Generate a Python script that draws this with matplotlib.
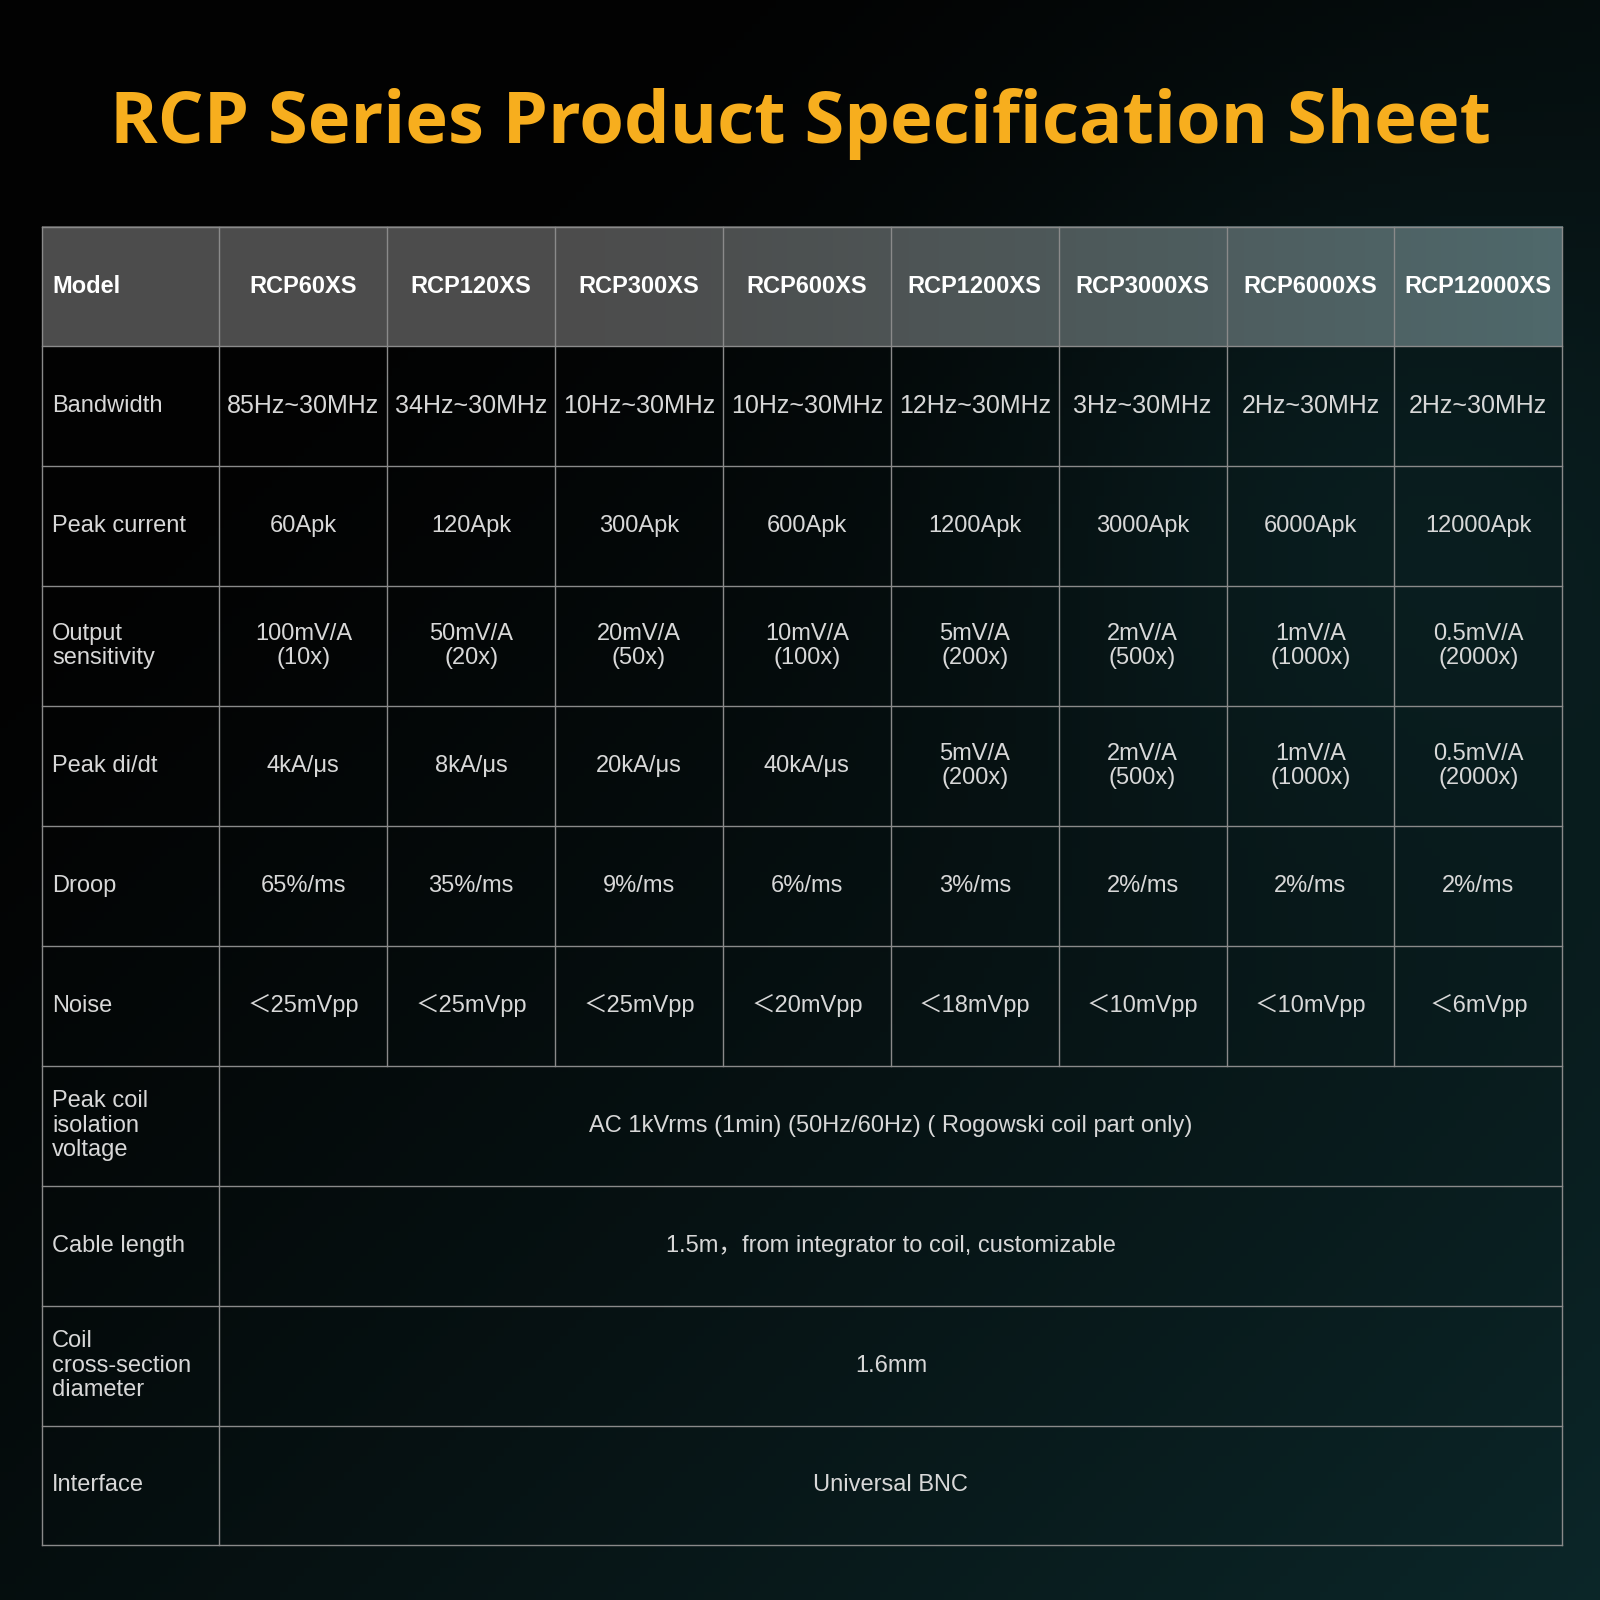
import matplotlib.pyplot as plt
import numpy as np

title = "RCP Series Product Specification Sheet"
models = ["RCP60XS", "RCP120XS", "RCP300XS", "RCP600XS", "RCP1200XS",
          "RCP3000XS", "RCP6000XS", "RCP12000XS"]
row_labels = ["Bandwidth", "Peak current", "Output\nsensitivity", "Peak di/dt",
              "Droop", "Noise"]
bandwidth = ["85Hz~30MHz", "34Hz~30MHz", "10Hz~30MHz", "10Hz~30MHz",
             "12Hz~30MHz", "3Hz~30MHz", "2Hz~30MHz", "2Hz~30MHz"]
peak_current = ["60Apk", "120Apk", "300Apk", "600Apk", "1200Apk", "3000Apk",
                "6000Apk", "12000Apk"]
sensitivity = ["100mV/A\n(10x)", "50mV/A\n(20x)", "20mV/A\n(50x)", "10mV/A\n(100x)",
               "5mV/A\n(200x)", "2mV/A\n(500x)", "1mV/A\n(1000x)", "0.5mV/A\n(2000x)"]
didt = ["4kA/μs", "8kA/μs", "20kA/μs", "40kA/μs", "5mV/A\n(200x)", "2mV/A\n(500x)",
        "1mV/A\n(1000x)", "0.5mV/A\n(2000x)"]
droop = ["65%/ms", "35%/ms", "9%/ms", "6%/ms", "3%/ms", "2%/ms", "2%/ms", "2%/ms"]
noise = ["＜25mVpp", "＜25mVpp", "＜25mVpp", "＜20mVpp", "＜18mVpp", "＜10mVpp",
         "＜10mVpp", "＜6mVpp"]
span_labels = ["Peak coil\nisolation\nvoltage", "Cable length",
               "Coil\ncross-section\ndiameter", "Interface"]
span_values = ["AC 1kVrms (1min) (50Hz/60Hz) ( Rogowski coil part only)",
               "1.5m，from integrator to coil, customizable", "1.6mm", "Universal BNC"]

W = 1568
fig = plt.figure(figsize=(16, 16), dpi=100)
ax = fig.add_axes([0, 0, 1, 1])
ax.set_xlim(0, W)
ax.set_ylim(W, 0)
ax.axis("off")

# background gradient: black top-left, teal toward right/bottom
yy, xx = np.mgrid[0:1:200j, 0:1:200j]
t = np.clip(0.55 * xx + 0.6 * yy - 0.25, 0, 1) ** 1.2
t = t + 0.3 * np.exp(-((xx - 0.85) ** 2 + (yy - 0.3) ** 2) / 0.05)
t = np.clip(t, 0, 1)
c0 = np.array([0.01, 0.01, 0.01])
c1 = np.array([0.05, 0.17, 0.18])
img = c0 + t[..., None] * (c1 - c0)
ax.imshow(img, extent=[0, W, W, 0], zorder=0, aspect="auto")

ax.text(W / 2, 122, title, color="#F7AE1E", fontsize=52, fontweight="bold",
        family="Open Sans", ha="center", va="center")

left, right, top = 41, 1531, 222
c1w = 174
cw = (right - left - c1w) / 8
rh = 117.5
xs = [left, left + c1w] + [left + c1w + cw * (i + 1) for i in range(8)]

# header background: gray, turning teal-gray toward the right
hdr = np.linspace(0, 1, 100)[None, :]
hc0 = np.array([0.30, 0.30, 0.30])
hc1 = np.array([0.31, 0.41, 0.42])
himg = hc0 + (np.clip((hdr - 0.35) / 0.65, 0, 1)[..., None] ** 1.2) * (hc1 - hc0)
ax.imshow(himg, extent=[left, right, top + rh, top], zorder=1, aspect="auto")

font = ["Liberation Sans", "Noto Sans CJK SC"]
txt = "#d8d8d8"
fs = 17

def cy(r):
    return top + rh * r + rh / 2

ax.text(left + 10, cy(0), "Model", color="white", fontsize=fs, fontweight="bold",
        family=font, va="center")
for i, m in enumerate(models):
    ax.text((xs[i + 1] + xs[i + 2]) / 2, cy(0), m, color="white", fontsize=fs,
            fontweight="bold", family=font, ha="center", va="center")

rows = [bandwidth, peak_current, sensitivity, didt, droop, noise]
for r, (lab, vals) in enumerate(zip(row_labels, rows), start=1):
    ax.text(left + 10, cy(r), lab, color=txt, fontsize=fs, family=font, va="center",
            linespacing=1.15)
    for i, v in enumerate(vals):
        ax.text((xs[i + 1] + xs[i + 2]) / 2, cy(r), v, color=txt,
                fontsize=fs + (1 if r == 1 else 0), family=font,
                ha="center", va="center", linespacing=1.15)

for k, (lab, v) in enumerate(zip(span_labels, span_values)):
    r = 7 + k
    ax.text(left + 10, cy(r), lab, color=txt, fontsize=fs, family=font, va="center",
            linespacing=1.15)
    ax.text((xs[1] + right) / 2, cy(r), v, color=txt, fontsize=fs, family=font,
            ha="center", va="center")

nrows = 11
bottom = top + rh * nrows
lc = "#8a8a8a"
for r in range(nrows + 1):
    ax.plot([left, right], [top + rh * r] * 2, color=lc, lw=1, zorder=3)
for j, x in enumerate(xs):
    y1 = bottom if j in (0, 1, len(xs) - 1) else top + rh * 7
    ax.plot([x, x], [top, y1], color=lc, lw=1, zorder=3)

fig.savefig("out.png", dpi=100)
